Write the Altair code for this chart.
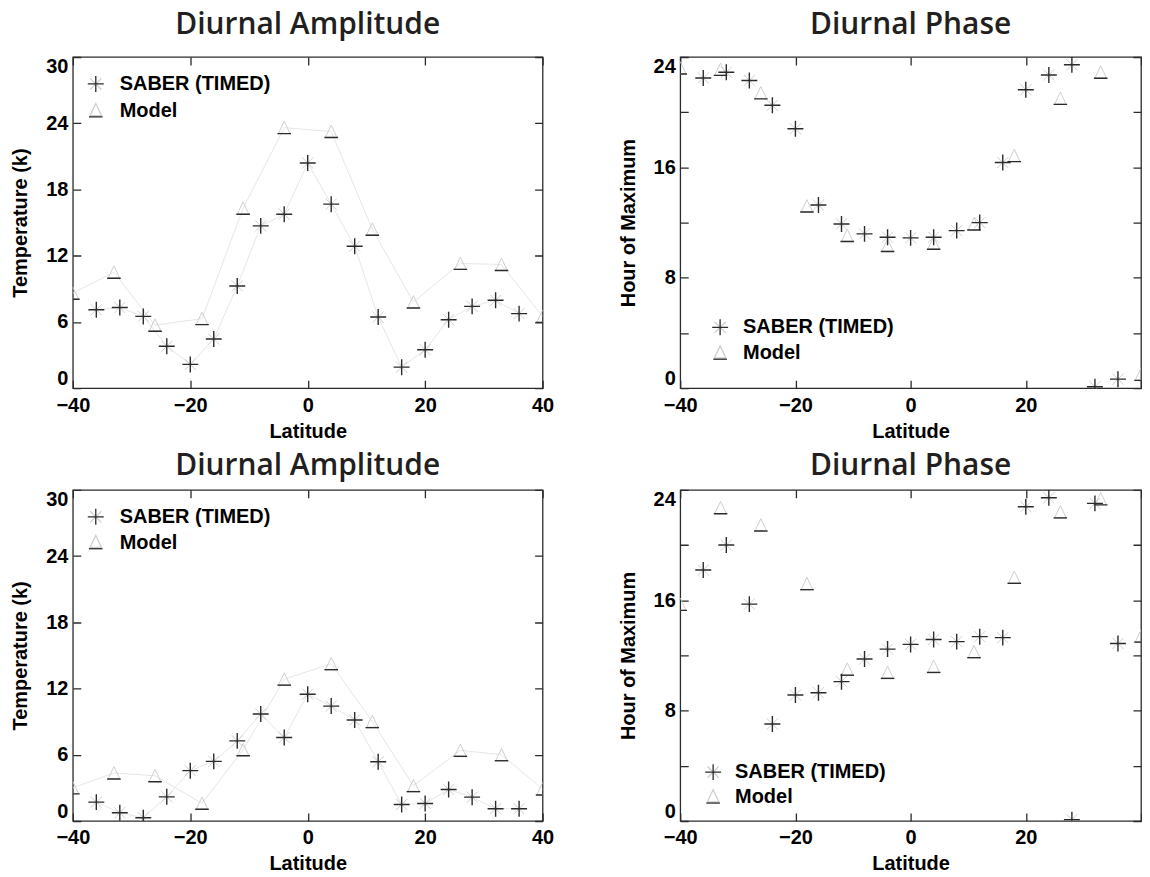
import altair as alt
import pandas as pd

# ---------------- data ----------------
saber_lat = [-36, -32, -28, -24, -20, -16, -12, -8, -4, 0, 4, 8, 12, 16, 20, 24, 28, 32, 36]
model_lat = [-40, -33, -26, -18, -11, -4, 4, 11, 18, 26, 33, 40]

amp1_saber = [7.1, 7.3, 6.5, 3.8, 2.15, 4.45, 9.26, 14.7, 15.76, 20.4, 16.67, 12.86, 6.44, 1.9, 3.48, 6.2, 7.41, 7.96, 6.75]
amp1_model = [8.6, 10.5, 5.7, 6.3, 16.3, 23.6, 23.25, 14.4, 7.8, 11.3, 11.2, 6.5]

phase1_saber = [22.48, 22.9, 22.3, 20.5, 18.8, 13.27, 11.9, 11.18, 10.94, 10.89, 10.94, 11.42, 12.0, 16.35, 21.63, 22.7, 23.44, 0.1, 0.65]
phase1_model = [23.2, 23.1, 21.4, 13.2, 11.06, 10.34, 10.5, 11.9, 16.85, 21.0, 22.9, 1.0]

amp2_saber = [1.71, 0.75, 0.3, 2.19, 4.56, 5.4, 7.26, 9.69, 7.56, 11.49, 10.41, 9.15, 5.37, 1.5, 1.59, 2.85, 2.16, 1.11, 1.11]
amp2_model = [3.0, 4.35, 4.1, 1.6, 6.45, 12.85, 14.25, 9.0, 3.2, 6.4, 6.0, 2.9]

phase2_saber = [18.19, 20.0, 15.72, 7.03, 9.13, 9.3, 10.1, 11.74, 12.46, 12.8, 13.16, 13.0, 13.36, 13.29, 22.78, 23.43, 0.1, 23.02, 12.87]
phase2_model = [15.7, 22.7, 21.45, 17.2, 11.0, 10.77, 11.2, 12.27, 17.66, 22.4, 23.35, 13.4]

SAB = "SABER (TIMED)"
MOD = "Model"
series_names = [SAB, MOD]

# ---------------- styling ----------------
FONT = "Liberation Sans"
TITLE_FONT = "Open Sans"
DARK = "#2b2b2b"
LIGHT = "#cfcfcf"
LINE = "#e6e6e6"

PLUS = "M-1,0H1M0,-1V1"
XDIAG = "M-0.7,-0.7L0.7,0.7M-0.7,0.7L0.7,-0.7"
TRI = "M0,-0.8L0.72,0.72L-0.72,0.72Z"
DASH = "M-0.85,0.75H0.85"
SYM = 256
H = 332
TICK = 8


def panel(saber_vals, model_vals, kind, title, title_offset, width, lx, ly, row_pad, lab_off):
    df = pd.DataFrame({
        "lat": saber_lat + model_lat,
        "val": saber_vals + model_vals,
        "series": [SAB] * len(saber_lat) + [MOD] * len(model_lat),
    })
    if kind == "amp":
        ydom = [0, 30]
        yvals = list(range(0, 31, 6))
        ytitle = "Temperature (k)"
        lexpr = "datum.label"
        xexpr = "datum.label"
    else:
        ydom = [0, 24]
        yvals = list(range(0, 25, 4))
        ytitle = "Hour of Maximum"
        lexpr = "datum.value % 8 == 0 ? datum.label : ''"
        xexpr = "datum.value == 40 ? '' : datum.label"

    x = alt.X(
        "lat:Q",
        scale=alt.Scale(domain=[-40, 40], nice=False, zero=False),
        axis=alt.Axis(
            values=[-40, -20, 0, 20, 40], title="Latitude", grid=True,
            gridDash=[TICK, H - 2 * TICK, TICK], labelPadding=7, titlePadding=6,
            labelFlush=False, labelOverlap=False, labelExpr=xexpr,
        ),
    )
    y = alt.Y(
        "val:Q",
        scale=alt.Scale(domain=ydom, nice=False, zero=False),
        axis=alt.Axis(
            values=yvals, title=ytitle, grid=True, labelExpr=lexpr,
            gridDash=[TICK, width - 2 * TICK, TICK], labelPadding=5,
            labelFlush=True, titlePadding=15,
        ),
    )

    def legend(color, opacity):
        return alt.Legend(
            orient="none", legendX=lx, legendY=ly, title=None,
            symbolSize=SYM, symbolStrokeColor=color, symbolStrokeWidth=1.3,
            symbolFillColor="transparent", labelOpacity=opacity,
            labelFont=FONT, labelFontSize=20, labelFontWeight="bold",
            labelColor="black", labelOffset=lab_off, rowPadding=row_pad,
            padding=0, symbolOpacity=1,
        )

    base = alt.Chart(df)
    layers = []
    if kind == "amp":
        layers.append(
            base.mark_line(color=LINE, strokeWidth=1, clip=True).encode(
                x=x, y=y, detail="series:N"
            )
        )
    light = base.mark_point(
        color=LIGHT, strokeWidth=1, size=SYM, opacity=1, clip=True, filled=False
    ).encode(
        x=x, y=y,
        shape=alt.Shape("series:N", scale=alt.Scale(domain=series_names, range=[XDIAG, TRI]),
                        legend=legend(LIGHT, 0)),
    )
    dark = base.mark_point(
        color=DARK, strokeWidth=1.4, size=SYM, opacity=1, clip=True, filled=False
    ).encode(
        x=x, y=y,
        shape=alt.Shape("series:N", scale=alt.Scale(domain=series_names, range=[PLUS, DASH]),
                        legend=legend(DARK, 1)),
    )
    layers += [light, dark]
    return alt.layer(*layers).resolve_scale(shape="independent").properties(
        width=width, height=H,
        title=alt.TitleParams(
            title, font=TITLE_FONT, fontSize=30, fontWeight=600, color="#231f20",
            anchor="middle", baseline="alphabetic", offset=title_offset,
        ),
    )


p1 = panel(amp1_saber, amp1_model, "amp", "Diurnal Amplitude", -7, 471, 13, 17, 6, 14)
p2 = panel(phase1_saber, phase1_model, "phase", "Diurnal Phase", -7, 462, 30, 261, 5, 13)
p3 = panel(amp2_saber, amp2_model, "amp", "Diurnal Amplitude", -15, 471, 13, 17, 5, 14)
p4 = panel(phase2_saber, phase2_model, "phase", "Diurnal Phase", -15, 462, 23, 273, 4, 12)

chart = alt.concat(
    p1, p2, p3, p4, columns=2, spacing={"row": 102, "column": 138}, bounds="flush"
).resolve_scale(
    shape="independent", x="independent", y="independent"
).properties(
    padding={"left": 2, "top": 0, "right": 0, "bottom": 0},
    background="white",
).configure_view(
    stroke=DARK, strokeWidth=1.3
).configure_axis(
    domain=False, ticks=False, gridColor=DARK, gridOpacity=1, gridWidth=1.3,
    labelFont=FONT, labelFontSize=20, labelFontWeight="bold", labelColor="black",
    titleFont=FONT, titleFontSize=20, titleFontWeight="bold", titleColor="black",
)

chart.save("out.html", embed_options={"renderer": "svg", "actions": False})
